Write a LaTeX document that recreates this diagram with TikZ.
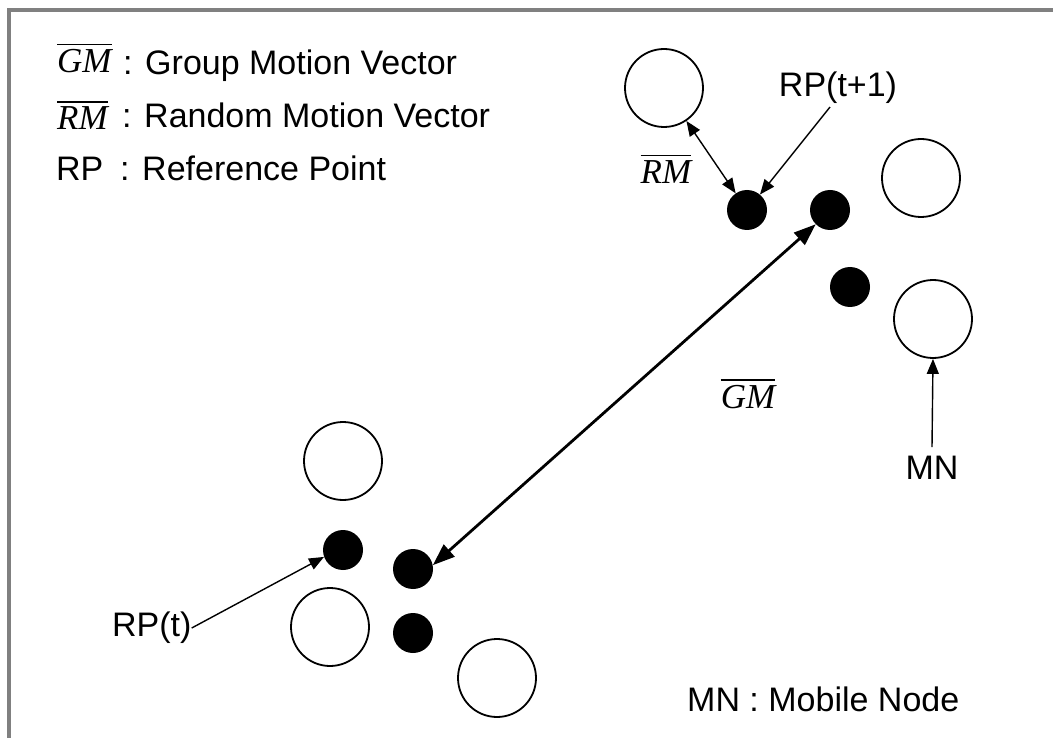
\documentclass[tikz,border=0pt]{standalone}
\usepackage{fontspec}
\setmainfont{Liberation Sans}
\newfontfamily\tnr{Liberation Serif}
\usetikzlibrary{arrows.meta}
\begin{document}
\begin{tikzpicture}[x=1pt,y=-1pt,
  lbl/.style={font=\fontsize{34}{40}\selectfont, inner sep=0pt},
  vec/.style={font=\fontsize{35}{40}\selectfont\tnr\itshape, inner sep=0pt},
  mnode/.style={circle, draw, line width=1.8pt, minimum size=78pt, inner sep=0pt},
  rpdot/.style={circle, fill=black, minimum size=40pt, inner sep=0pt},
  ovl/.style={line width=1.6pt},
  thinarrow/.style={line width=1.4pt, {Triangle[length=15pt,width=12pt]}-{Triangle[length=15pt,width=12pt]}},
  onearrow/.style={line width=1.4pt, -{Triangle[length=15pt,width=12pt]}},
  gmarrow/.style={line width=2.8pt, {Triangle[length=22pt,width=16pt]}-{Triangle[length=22pt,width=16pt]}}
]
\useasboundingbox (0,0) rectangle (1053,738);
\draw[line width=3.5pt, color=gray, line cap=rect] (9,770) -- (9,10) -- (1090,10);

% legend
\node[vec, anchor=base west] (lgm) at (57,73) {GM};
\draw[ovl] ([yshift=5pt]lgm.north west) -- ([yshift=5pt]lgm.north east);
\node[lbl, anchor=base west] (lgmt) at (123,75) {: Group Motion Vector};
\node[vec, anchor=base west] (lrm) at (57,130) {RM};
\draw[ovl] ([yshift=5pt]lrm.north west) -- ([yshift=5pt]lrm.north east);
\node[lbl, anchor=base west] (lrmt) at (122,128) {: Random Motion Vector};
\node[lbl, anchor=base west] (lrp) at (56,181) {RP};
\node[lbl, anchor=base west] (lrpt) at (120,181) {: Reference Point};

% mobile nodes
\node[mnode] (c1) at (664,88) {};
\node[mnode] (c2) at (921,178) {};
\node[mnode] (c3) at (933,319) {};
\node[mnode] (c4) at (343,461) {};
\node[mnode] (c5) at (330,627) {};
\node[mnode] (c6) at (497,678) {};

% reference points
\node[rpdot] (d1) at (747,210) {};
\node[rpdot] (d2) at (830,210) {};
\node[rpdot] (d3) at (850,287) {};
\node[rpdot] (e1) at (343,550) {};
\node[rpdot] (e2) at (413,569) {};
\node[rpdot] (e3) at (413,633) {};

% labels
\node[lbl] (rpt1) at (838,88) {RP(t+1)};
\node[lbl, anchor=west] (rpt) at (112,628) {RP(t)};
\node[lbl] (mn) at (932,468) {MN};
\node[lbl, anchor=base west] (mnleg) at (687,711) {MN : Mobile Node};
\node[vec] (gml) at (748,397) {GM};
\draw[ovl] ([yshift=5pt]gml.north west) -- ([yshift=5pt]gml.north east);
\node[vec] (rml) at (666,172) {RM};
\draw[ovl] ([yshift=5pt]rml.north west) -- ([yshift=5pt]rml.north east);

% connectors
\draw[thinarrow] (c1) -- (d1);
\draw[gmarrow] (e2.11) -- (d2.225);
\draw[onearrow] ([xshift=-8pt,yshift=-3pt]rpt1.south) -- (d1.50);
\draw[onearrow] (rpt.east) -- (e1.200);
\draw[onearrow] ([yshift=9pt]mn.north) -- (c3.south);
\end{tikzpicture}
\end{document}
